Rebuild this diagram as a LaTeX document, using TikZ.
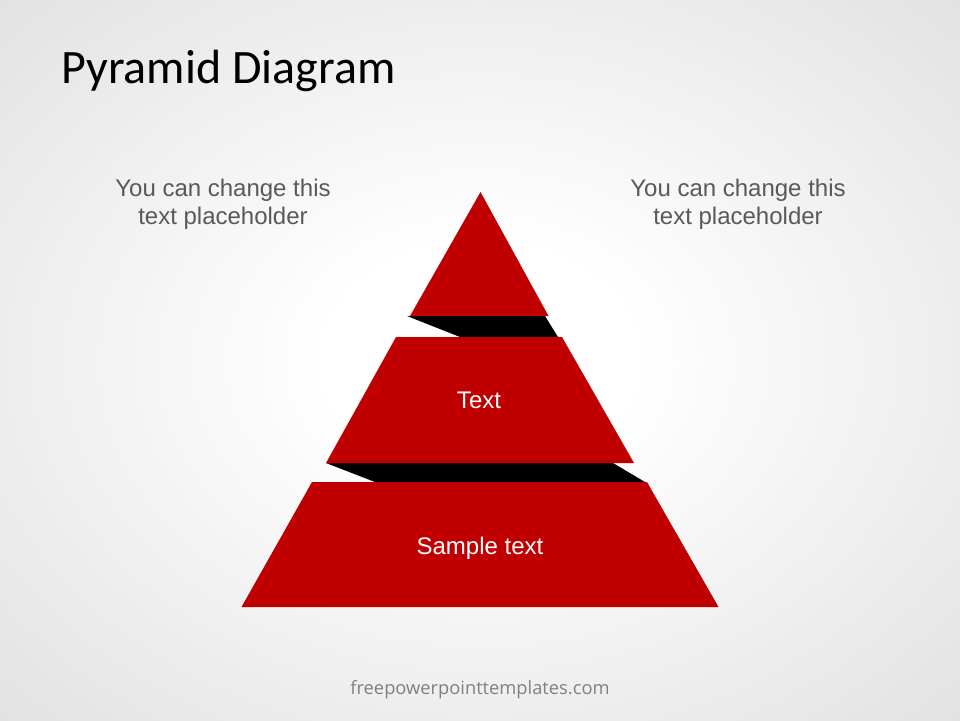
\documentclass[tikz,border=0pt]{standalone}
\usepackage{fontspec}
\setmainfont{Liberation Sans}
\newfontfamily\titlefont{Carlito}
\newfontfamily\footfont{Open Sans}
\definecolor{pyrred}{HTML}{C00000}
\definecolor{sidegray}{HTML}{595959}
\definecolor{footgray}{HTML}{808080}
\pgfdeclareradialshading{bgshade}{\pgfpoint{0bp}{0bp}}{color(0bp)=(white); color(8bp)=(white); color(37bp)=(black!12); color(50bp)=(black!12)}
\begin{document}
\begin{tikzpicture}[x=1pt,y=-1pt,
  redpart/.style={fill=pyrred,draw=none},
  blackpart/.style={fill=black,draw=none},
  sidetext/.style={text=sidegray,font=\fontsize{24}{28}\selectfont,align=center,inner sep=0pt,anchor=base},
  intext/.style={text=white,font=\fontsize{24}{28}\selectfont,inner sep=0pt,anchor=base}]
\useasboundingbox (0,0) rectangle (960,720);
\shade[shading=bgshade] (0,0) rectangle (960,720);
% black bands
\fill[blackpart] (407,316) -- (545,316) -- (558,337) -- (460,337) -- cycle;
\fill[blackpart] (326,463) -- (613,463) -- (645,482) -- (375,482) -- cycle;
% red layers
\fill[redpart] (480.5,192) -- (548.5,316) -- (410,316) -- cycle;
\fill[redpart] (396,337) -- (562,337) -- (634,463) -- (326,463) -- cycle;
\fill[redpart] (312,482) -- (647,482) -- (718.5,607) -- (241.5,607) -- cycle;
% texts
\node[anchor=base west,inner sep=0pt,font=\titlefont\fontsize{48}{58}\selectfont] (title) at (61,83) {Pyramid Diagram};
\node[sidetext] (left1) at (223,196) {You can change this};
\node[sidetext] (left2) at (223,224) {text placeholder};
\node[sidetext] (right1) at (738,196) {You can change this};
\node[sidetext] (right2) at (738,224) {text placeholder};
\node[intext] (mid) at (479,408) {Text};
\node[intext] (bot) at (480,554) {Sample text};
\node[anchor=base,inner sep=0pt,text=footgray,font=\footfont\fontsize{18.3}{22}\selectfont] (foot) at (480,694) {freepowerpointtemplates.com};
\end{tikzpicture}
\end{document}
